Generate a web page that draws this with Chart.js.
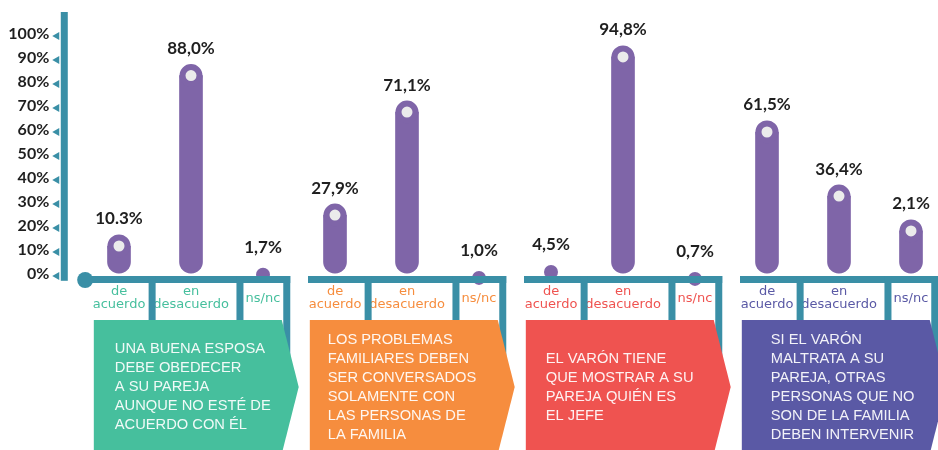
<!DOCTYPE html>
<html>
<head>
<meta charset="utf-8">
<script src="https://cdn.jsdelivr.net/npm/chart.js@4"></script>
<style>
  html, body { margin: 0; padding: 0; background: #ffffff; }
  canvas { display: block; }
</style>
</head>
<body>
<canvas id="chart" width="938" height="450"></canvas>
<script>
// answer options, repeated under each of the four statements
const categories = [
  ['de', 'acuerdo'], ['en', 'desacuerdo'], 'ns/nc',
  ['de', 'acuerdo'], ['en', 'desacuerdo'], 'ns/nc',
  ['de', 'acuerdo'], ['en', 'desacuerdo'], 'ns/nc',
  ['de', 'acuerdo'], ['en', 'desacuerdo'], 'ns/nc'
];

const statements = [
  ['UNA BUENA ESPOSA', 'DEBE OBEDECER', 'A SU PAREJA', 'AUNQUE NO ESTÉ DE', 'ACUERDO CON ÉL'],
  ['LOS PROBLEMAS', 'FAMILIARES DEBEN', 'SER CONVERSADOS', 'SOLAMENTE CON', 'LAS PERSONAS DE', 'LA FAMILIA'],
  ['EL VARÓN TIENE', 'QUE MOSTRAR A SU', 'PAREJA QUIÉN ES', 'EL JEFE'],
  ['SI EL VARÓN', 'MALTRATA A SU', 'PAREJA, OTRAS', 'PERSONAS QUE NO', 'SON DE LA FAMILIA', 'DEBEN INTERVENIR']
];

// percentages as printed above each bar
const printedValues = [
  '10.3%', '88,0%', '1,7%',
  '27,9%', '71,1%', '1,0%',
  '4,5%', '94,8%', '0,7%',
  '61,5%', '36,4%', '2,1%'
];

// height of each knob centre as drawn in the picture (% on the axis).
// the infographic does not follow the printed numbers exactly, tiny ones are just a bump on the rail
const knobLevel = [
  12.5, 83.5, 0.5,
  25.4, 68.3, -0.8,
  1.7, 91.3, -1.2,
  60.0, 33.3, 18.8
];

const yTickValues = [0, 10, 20, 30, 40, 50, 60, 70, 80, 90, 100];
const yTickLabels = ['0%', '10%', '20%', '30%', '40%', '50%', '60%', '70%', '80%', '90%', '100%'];

const groupColors = ['#46bf9d', '#f68d3e', '#ef5350', '#5a59a5'];
const textInset = [21, 18, 20, 29];

const TEAL = '#3a8fa6';
const PURPLE = '#7f65a8';
const KNOB_FILL = '#ebebeb';
const BAR_BASE = 1.2; // rounded bottom sits just above the teal rail

const isBump = v => v < 3;
const barData = knobLevel.map(v => isBump(v) ? null : [BAR_BASE, v]);

const infographic = {
  id: 'infographic',
  afterDatasetsDraw(chart) {
    const { ctx } = chart;
    const x = chart.scales.x;
    const y = chart.scales.y;
    const px = v => x.getPixelForValue(v);
    const base = y.getPixelForValue(0);

    ctx.save();

    // vertical axis with little arrow ticks
    const axisX = px(-0.76);
    const axisTop = y.getPixelForValue(110);
    ctx.fillStyle = TEAL;
    ctx.fillRect(axisX - 3.5, axisTop, 7, y.getPixelForValue(-2) - axisTop);
    ctx.font = 'bold 16px Lato';
    ctx.textAlign = 'right';
    ctx.textBaseline = 'middle';
    yTickValues.forEach((v, i) => {
      const ty = y.getPixelForValue(v);
      ctx.fillStyle = TEAL;
      ctx.beginPath();
      ctx.moveTo(axisX - 12, ty);
      ctx.lineTo(axisX - 5, ty - 4);
      ctx.lineTo(axisX - 5, ty + 4);
      ctx.closePath();
      ctx.fill();
      ctx.fillStyle = '#1f1f1f';
      ctx.fillText(yTickLabels[i], axisX - 15, ty - 2.5);
    });

    // rails and cell dividers for each statement
    for (let g = 0; g < 4; g++) {
      const c = g * 3;
      const start = g === 0 ? px(c - 0.47) : px(c - 0.375);
      const end = px(c + 2.33) + 3.5;
      ctx.fillStyle = TEAL;
      ctx.fillRect(start, base, end - start, 7);
      [c + 0.46, c + 1.68, c + 2.33].forEach(d => {
        ctx.fillRect(px(d) - 3.5, base, 7, 112);
      });
      if (g === 0) {
        ctx.beginPath();
        ctx.arc(start, base + 4, 8, 0, Math.PI * 2);
        ctx.fill();
      }
    }

    // arrow boxes with the statements
    ctx.textAlign = 'left';
    for (let g = 0; g < 4; g++) {
      const c = g * 3;
      const left = px(c - 0.35);
      const right = px(c + 2.26);
      const top = base + 44;
      const tipY = base + 111;
      const bottom = tipY + (tipY - top);
      ctx.fillStyle = groupColors[g];
      ctx.beginPath();
      ctx.moveTo(left, top);
      ctx.lineTo(right, top);
      ctx.lineTo(right + 17, tipY);
      ctx.lineTo(right, bottom);
      ctx.lineTo(left, bottom);
      ctx.closePath();
      ctx.fill();

      const lines = statements[g];
      const lh = 19;
      ctx.fillStyle = 'rgba(255,255,255,0.92)';
      ctx.font = '14.7px "Liberation Sans", Arial, sans-serif';
      ctx.textBaseline = 'middle';
      lines.forEach((t, k) => {
        const ly = tipY - (lines.length - 1) * lh / 2 + k * lh;
        ctx.fillText(t, left + textInset[g], ly);
      });
    }

    // printed percentages above the knobs
    ctx.fillStyle = '#1f1f1f';
    ctx.font = 'bold 17px Lato';
    ctx.textAlign = 'center';
    ctx.textBaseline = 'middle';
    knobLevel.forEach((v, i) => {
      ctx.fillText(printedValues[i], px(i), y.getPixelForValue(v) - 27);
    });

    ctx.restore();
  }
};

new Chart(document.getElementById('chart'), {
  type: 'bar',
  data: {
    labels: categories,
    datasets: [
      {
        type: 'line',
        label: 'knobs',
        data: knobLevel,
        order: 0,
        showLine: false,
        clip: false,
        pointRadius: c => isBump(c.raw) ? 7 : 8.5,
        pointHoverRadius: c => isBump(c.raw) ? 7 : 8.5,
        pointBorderWidth: c => isBump(c.raw) ? 0 : 6,
        pointHoverBorderWidth: c => isBump(c.raw) ? 0 : 6,
        pointBackgroundColor: c => isBump(c.raw) ? PURPLE : KNOB_FILL,
        pointBorderColor: PURPLE
      },
      {
        label: 'bars',
        data: barData,
        order: 1,
        clip: false,
        backgroundColor: PURPLE,
        barThickness: 23,
        borderRadius: { topLeft: 0, topRight: 0, bottomLeft: 12, bottomRight: 12 },
        borderSkipped: false
      }
    ]
  },
  options: {
    responsive: false,
    animation: false,
    events: [],
    layout: { padding: { left: 119, right: 27, top: 36, bottom: 116 } },
    plugins: { legend: { display: false }, tooltip: { enabled: false } },
    scales: {
      x: {
        offset: false,
        grid: { display: false, drawTicks: false },
        border: { display: false },
        afterFit: s => { s.paddingLeft = 0; s.paddingRight = 0; },
        ticks: {
          padding: 16,
          maxRotation: 0,
          autoSkip: false,
          crossAlign: 'center',
          font: { family: '"DejaVu Sans"', size: 13, lineHeight: 1.0 },
          color: c => groupColors[Math.floor(c.index / 3)]
        }
      },
      y: {
        display: false,
        min: 0,
        max: 100
      }
    }
  },
  plugins: [infographic]
});
</script>
</body>
</html>
